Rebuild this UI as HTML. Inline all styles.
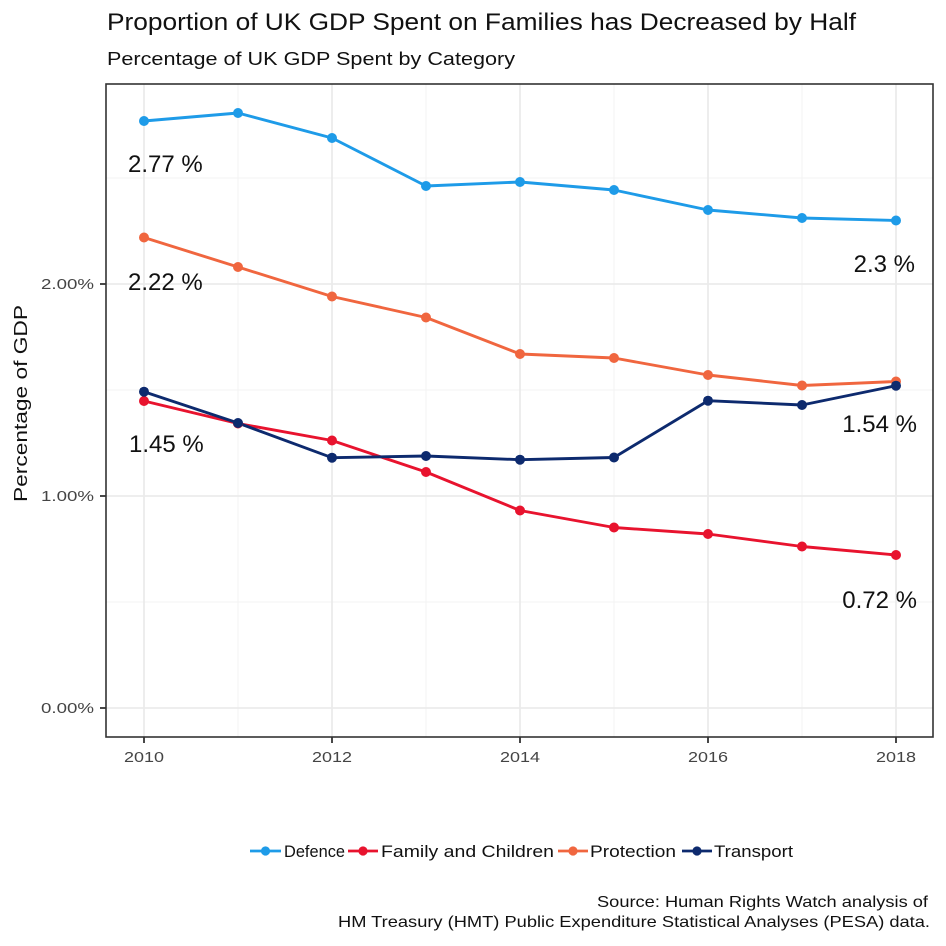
<!DOCTYPE html>
<html>
<head>
<meta charset="utf-8">
<style>
html,body{margin:0;padding:0;background:#fff;}
svg{display:block;}
text{font-family:"Liberation Sans","DejaVu Sans",sans-serif;}
</style>
</head>
<body>
<svg width="946" height="946" viewBox="0 0 946 946" xmlns="http://www.w3.org/2000/svg">
<rect width="946" height="946" fill="#fff"/>
<!-- titles -->
<text x="107" y="30" font-size="24" fill="#111" textLength="749" lengthAdjust="spacingAndGlyphs">Proportion of UK GDP Spent on Families has Decreased by Half</text>
<text x="107" y="65" font-size="18" fill="#111" textLength="408" lengthAdjust="spacingAndGlyphs">Percentage of UK GDP Spent by Category</text>

<!-- panel grid -->
<g stroke="#f3f3f3" stroke-width="1">
<line x1="106" y1="602" x2="933" y2="602"/>
<line x1="106" y1="390" x2="933" y2="390"/>
<line x1="106" y1="178" x2="933" y2="178"/>
<line x1="238" y1="84" x2="238" y2="737"/>
<line x1="426" y1="84" x2="426" y2="737"/>
<line x1="614" y1="84" x2="614" y2="737"/>
<line x1="802" y1="84" x2="802" y2="737"/>
</g>
<g stroke="#ebebeb" stroke-width="1.8">
<line x1="106" y1="708" x2="933" y2="708"/>
<line x1="106" y1="496" x2="933" y2="496"/>
<line x1="106" y1="284" x2="933" y2="284"/>
<line x1="144" y1="84" x2="144" y2="737"/>
<line x1="332" y1="84" x2="332" y2="737"/>
<line x1="520" y1="84" x2="520" y2="737"/>
<line x1="708" y1="84" x2="708" y2="737"/>
<line x1="896" y1="84" x2="896" y2="737"/>
</g>

<!-- series -->
<g fill="none" stroke-width="2.9" stroke-linejoin="round">
<polyline stroke="#1e9be8" points="144,121 238,113 332,138 426,186 520,182 614,190 708,210 802,218 896,220.5"/>
<polyline stroke="#e8132e" points="144,401 238,423.5 332,440.5 426,472 520,510.5 614,527.5 708,534 802,546.5 896,555"/>
<polyline stroke="#f0663f" points="144,237.5 238,267 332,296.5 426,317.5 520,354 614,358 708,375 802,385.5 896,381.5"/>
<polyline stroke="#0d2a6e" points="144,391.7 238,423 332,457.7 426,456 520,459.7 614,457.5 708,400.7 802,405 896,385.7"/>
</g>
<g fill="#1e9be8">
<circle cx="144" cy="121" r="5"/><circle cx="238" cy="113" r="5"/><circle cx="332" cy="138" r="5"/><circle cx="426" cy="186" r="5"/><circle cx="520" cy="182" r="5"/><circle cx="614" cy="190" r="5"/><circle cx="708" cy="210" r="5"/><circle cx="802" cy="218" r="5"/><circle cx="896" cy="220.5" r="5"/>
</g>
<g fill="#e8132e">
<circle cx="144" cy="401" r="5"/><circle cx="238" cy="423.5" r="5"/><circle cx="332" cy="440.5" r="5"/><circle cx="426" cy="472" r="5"/><circle cx="520" cy="510.5" r="5"/><circle cx="614" cy="527.5" r="5"/><circle cx="708" cy="534" r="5"/><circle cx="802" cy="546.5" r="5"/><circle cx="896" cy="555" r="5"/>
</g>
<g fill="#f0663f">
<circle cx="144" cy="237.5" r="5"/><circle cx="238" cy="267" r="5"/><circle cx="332" cy="296.5" r="5"/><circle cx="426" cy="317.5" r="5"/><circle cx="520" cy="354" r="5"/><circle cx="614" cy="358" r="5"/><circle cx="708" cy="375" r="5"/><circle cx="802" cy="385.5" r="5"/><circle cx="896" cy="381.5" r="5"/>
</g>
<g fill="#0d2a6e">
<circle cx="144" cy="391.7" r="5"/><circle cx="238" cy="423" r="5"/><circle cx="332" cy="457.7" r="5"/><circle cx="426" cy="456" r="5"/><circle cx="520" cy="459.7" r="5"/><circle cx="614" cy="457.5" r="5"/><circle cx="708" cy="400.7" r="5"/><circle cx="802" cy="405" r="5"/><circle cx="896" cy="385.7" r="5"/>
</g>

<!-- value labels -->
<g font-size="24" fill="#111">
<text x="128" y="172">2.77 %</text>
<text x="128" y="290">2.22 %</text>
<text x="129" y="452">1.45 %</text>
<text x="915" y="272" text-anchor="end">2.3 %</text>
<text x="917" y="432" text-anchor="end">1.54 %</text>
<text x="917" y="608" text-anchor="end">0.72 %</text>
</g>

<!-- panel border -->
<rect x="106" y="84" width="827" height="653" fill="none" stroke="#333" stroke-width="1.6"/>

<!-- ticks -->
<g stroke="#333" stroke-width="1.8">
<line x1="100" y1="708" x2="106" y2="708"/>
<line x1="100" y1="496" x2="106" y2="496"/>
<line x1="100" y1="284" x2="106" y2="284"/>
<line x1="144" y1="737" x2="144" y2="743"/>
<line x1="332" y1="737" x2="332" y2="743"/>
<line x1="520" y1="737" x2="520" y2="743"/>
<line x1="708" y1="737" x2="708" y2="743"/>
<line x1="896" y1="737" x2="896" y2="743"/>
</g>
<g font-size="14.5" fill="#444">
<text x="41" y="713" textLength="53" lengthAdjust="spacingAndGlyphs">0.00%</text>
<text x="41" y="501" textLength="53" lengthAdjust="spacingAndGlyphs">1.00%</text>
<text x="41" y="289" textLength="53" lengthAdjust="spacingAndGlyphs">2.00%</text>
<text x="124" y="762" textLength="40" lengthAdjust="spacingAndGlyphs">2010</text>
<text x="312" y="762" textLength="40" lengthAdjust="spacingAndGlyphs">2012</text>
<text x="500" y="762" textLength="40" lengthAdjust="spacingAndGlyphs">2014</text>
<text x="688" y="762" textLength="40" lengthAdjust="spacingAndGlyphs">2016</text>
<text x="876" y="762" textLength="40" lengthAdjust="spacingAndGlyphs">2018</text>
</g>

<!-- y axis title -->
<text transform="translate(27,502) rotate(-90)" font-size="18" fill="#111" textLength="197" lengthAdjust="spacingAndGlyphs">Percentage of GDP</text>

<!-- legend -->
<g stroke-width="2.8">
<line x1="250" y1="851" x2="281" y2="851" stroke="#1e9be8"/>
<line x1="348" y1="851" x2="378" y2="851" stroke="#e8132e"/>
<line x1="558" y1="851" x2="588" y2="851" stroke="#f0663f"/>
<line x1="682" y1="851" x2="712" y2="851" stroke="#0d2a6e"/>
</g>
<circle cx="265.5" cy="851" r="4.6" fill="#1e9be8"/>
<circle cx="363" cy="851" r="4.6" fill="#e8132e"/>
<circle cx="573" cy="851" r="4.6" fill="#f0663f"/>
<circle cx="697" cy="851" r="4.6" fill="#0d2a6e"/>
<g font-size="16.5" fill="#111">
<text x="284" y="857" textLength="61" lengthAdjust="spacingAndGlyphs">Defence</text>
<text x="381" y="857" textLength="173" lengthAdjust="spacingAndGlyphs">Family and Children</text>
<text x="590" y="857" textLength="86" lengthAdjust="spacingAndGlyphs">Protection</text>
<text x="714" y="857" textLength="79" lengthAdjust="spacingAndGlyphs">Transport</text>
</g>

<!-- source -->
<g font-size="16" fill="#111">
<text x="597" y="907" textLength="331" lengthAdjust="spacingAndGlyphs">Source: Human Rights Watch analysis of</text>
<text x="338" y="927" textLength="592" lengthAdjust="spacingAndGlyphs">HM Treasury (HMT) Public Expenditure Statistical Analyses (PESA) data.</text>
</g>
</svg>
</body>
</html>
